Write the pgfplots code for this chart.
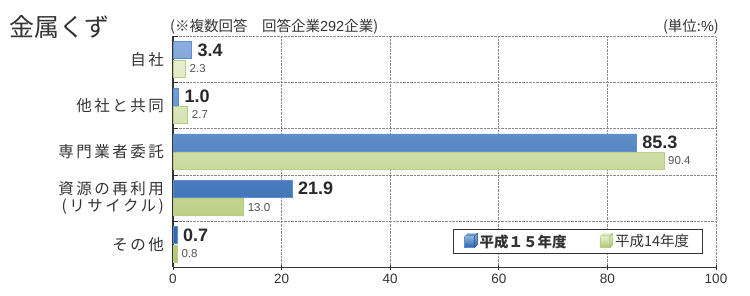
\documentclass[border=0pt]{standalone}
\usepackage{pgfplots}
\pgfplotsset{compat=1.18}
\usepackage{fontspec}
\setmainfont{Noto Sans CJK JP}
\newfontfamily\numfont{Liberation Sans}
\newfontfamily\catfont[LetterSpace=16]{Noto Sans CJK JP}
\definecolor{bA}{HTML}{8CAEDD}
\definecolor{bB}{HTML}{4A80C4}
\definecolor{bC}{HTML}{2C66AE}
\definecolor{bE}{HTML}{5F8FCB}
\definecolor{gA}{HTML}{E6EED0}
\definecolor{gB}{HTML}{CFDEA5}
\definecolor{gC}{HTML}{B0C874}
\definecolor{gE}{HTML}{B8CE82}
\definecolor{txt}{HTML}{333333}
\definecolor{gridc}{HTML}{8A8A8A}
\begin{document}
\begin{tikzpicture}[x=1pt,y=1pt]
\useasboundingbox (0,0) rectangle (750,296);
\node[anchor=west,inner sep=0pt,font=\fontsize{25}{25}\selectfont,text=txt] at (9,269) {金属くず};
\node[anchor=west,inner sep=0pt,font=\fontsize{14.5}{14.5}\selectfont,text=txt] at (170,269) {(※複数回答　回答企業\numfont 292\rmfamily 企業)};
\node[anchor=east,inner sep=0pt,font=\fontsize{14.5}{14.5}\selectfont,text=txt] at (719,269) {(単位:\numfont\%\rmfamily)};
\begin{axis}[
  at={(173pt,28.5pt)}, anchor=south west,
  scale only axis, width=543pt, height=231pt,
  xmin=0, xmax=100, ymin=-0.5, ymax=4.5,
  xtick={0,20,...,100},
  ytick={-0.5,0.5,1.5,2.5,3.5,4.5}, yticklabels={},
  axis lines*=left,
  axis line style={draw=txt, line width=1.6pt, -},
  xmajorgrids, ymajorgrids,
  grid style={densely dotted, gridc, line width=0.8pt},
  tick style={draw=txt, line width=1pt},
  xtick align=center, ytick align=inside,
  major tick length=5pt,
  /pgf/number format/assume math mode=true,
  xticklabel style={font=\numfont\fontsize{13.5}{13.5}\selectfont, text=txt, yshift=-1pt},
  extra y ticks={0,1,2,3,4},
  extra y tick labels={その他,{資源の再利用\\(リサイクル)},専門業者委託,他社と共同,自社},
  extra y tick style={grid=none, major tick length=0pt,
     yticklabel style={align=right, font=\catfont\fontsize{15.5}{17}\selectfont, text=txt, inner sep=0pt, xshift=-9pt}},
  clip=false,
  legend style={at={(0.515,0.167)}, anchor=north west, draw=txt, line width=0.9pt,
     font=\fontsize{14.5}{14.5}\selectfont, text=txt, inner xsep=11pt, inner ysep=3pt,
     /tikz/every even column/.append style={column sep=31pt}},
  legend columns=2,
  legend cell align=left,
]
\addplot[xbar, bar width=17pt, bar shift=9.5pt, draw=bE, line width=0.5pt,
   top color=bA, middle color=bB, bottom color=bC,
   nodes near coords, point meta=explicit symbolic,
   every node near coord/.append style={anchor=west, inner sep=0pt, xshift=6pt, yshift=9.5pt,
      font=\numfont\bfseries\fontsize{18}{18}\selectfont, text=txt!80!black},
   legend image code/.code={
     \shade[top color=bA, bottom color=bC] (0pt,-6pt) rectangle (10pt,5pt);
     \fill[bA!70!white] (0pt,5pt)--(3pt,8pt)--(13pt,8pt)--(10pt,5pt)--cycle;
     \fill[bC!80!black] (10pt,-6pt)--(13pt,-3pt)--(13pt,8pt)--(10pt,5pt)--cycle;}
] coordinates {(3.4,4)[3.4] (1.0,3)[1.0] (85.3,2)[85.3] (21.9,1)[21.9] (0.7,0)[0.7]};
\addlegendentry{\bfseries 平成１５年度}
\addplot[xbar, bar width=17pt, bar shift=-9pt, draw=gE, line width=0.5pt,
   top color=gA, middle color=gB, bottom color=gC,
   nodes near coords, point meta=explicit symbolic,
   every node near coord/.append style={anchor=west, inner sep=0pt, xshift=4pt, yshift=-9pt,
      font=\numfont\fontsize{11.5}{11.5}\selectfont, text=txt!85!white},
   legend image code/.code={
     \shade[top color=gA, bottom color=gC] (0pt,-6pt) rectangle (10pt,5pt);
     \fill[gA] (0pt,5pt)--(3pt,8pt)--(13pt,8pt)--(10pt,5pt)--cycle;
     \fill[gC!90!black] (10pt,-6pt)--(13pt,-3pt)--(13pt,8pt)--(10pt,5pt)--cycle;}
] coordinates {(2.3,4)[2.3] (2.7,3)[2.7] (90.4,2)[90.4] (13.0,1)[13.0] (0.8,0)[0.8]};
\addlegendentry{平成14年度}
\end{axis}
\end{tikzpicture}
\end{document}
